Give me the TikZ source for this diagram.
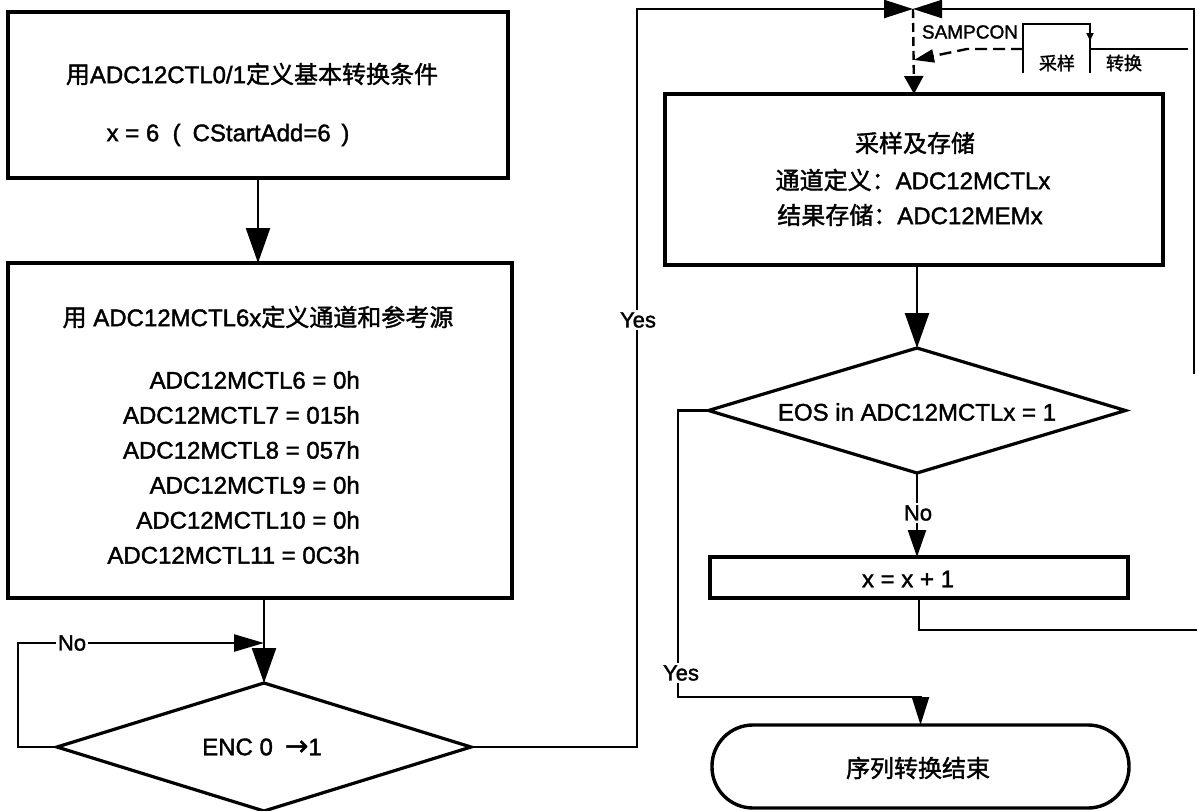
\documentclass[tikz,border=0pt]{standalone}
\usepackage{fontspec}
\setmainfont{Liberation Sans}[FakeBold=1.6]
\newfontfamily\cjk{Noto Sans CJK SC}[FakeBold=1.6]
\newfontfamily\dejavu{DejaVu Sans}[FakeBold=1.6]
\usetikzlibrary{arrows.meta,shapes.geometric}
\begin{document}
\begin{tikzpicture}[x=1pt,y=-1pt,
  box/.style={draw, line width=3.4pt, inner sep=0pt, outer sep=0pt},
  dia/.style={diamond, draw, line width=3.2pt, inner sep=0pt, outer sep=0pt},
  txt/.style={inner sep=0pt, font=\fontsize{24pt}{28pt}\selectfont},
  small/.style={inner sep=1pt, font=\fontsize{22pt}{26pt}\selectfont},
  conn/.style={line width=2.4pt},
  bigtip/.style={-{Triangle[width=24pt,length=35pt]}},
  midtip/.style={-{Triangle[width=18pt,length=27pt]}},
  lbg/.style={fill=white, inner sep=2pt}
]
\fill[white] (0,0) rectangle (1197,811);
\useasboundingbox (0,0) rectangle (1197,811);

% ---- left column ----
\node[box, minimum width=500pt, minimum height=166pt] (b1) at (258,95) {};
\node[txt] (t1a) at (252,74) {{\cjk 用}ADC12CTL0/1{\cjk 定义基本转换条件}};
\node[txt] (t1b) at (228,135) {x = 6 \ (\hspace{12pt}CStartAdd=6 \,)};

\node[box, minimum width=504pt, minimum height=335pt] (b2) at (260,430.5) {};
\node[txt] (t2) at (258,317) {{\cjk 用} ADC12MCTL6x{\cjk 定义通道和参考源}};
\node[txt, anchor=east] (m6) at (360,380) {ADC12MCTL6 = 0h};
\node[txt, anchor=east] (m7) at (360,415) {ADC12MCTL7 = 015h};
\node[txt, anchor=east] (m8) at (360,450) {ADC12MCTL8 = 057h};
\node[txt, anchor=east] (m9) at (360,485) {ADC12MCTL9 = 0h};
\node[txt, anchor=east] (m10) at (360,520) {ADC12MCTL10 = 0h};
\node[txt, anchor=east] (m11) at (360,555) {ADC12MCTL11 = 0C3h};

\node[dia, minimum width=414pt, minimum height=128pt] (enc) at (264,747) {};
\node[txt] (tenc) at (262,747) {ENC 0\hspace{12pt}{\dejavu\fontsize{28pt}{28pt}\selectfont →}1};

% ---- right column ----
\node[box, minimum width=498pt, minimum height=171pt] (b3) at (914,179.5) {};
\node[txt] (t3a) at (915,143) {\cjk 采样及存储};
\node[txt] (t3b) at (913,180) {{\cjk 通道定义：}ADC12MCTLx};
\node[txt] (t3c) at (910,215) {{\cjk 结果存储：}ADC12MEMx};

\node[dia, minimum width=417pt, minimum height=125pt] (eos) at (917,410.5) {};
\node[txt] (teos) at (917,412) {EOS in ADC12MCTLx = 1};

\node[box, minimum width=418pt, minimum height=41pt] (b4) at (919,577.5) {};
\node[txt] (t4) at (908,579) {x = x + 1};

\node[box, rounded corners=41pt, minimum width=417pt, minimum height=83pt] (term) at (920.5,766.5) {};
\node[txt] (tterm) at (918,768) {\cjk 序列转换结束};

% ---- coordinates ----
\coordinate (J) at (913,9);
\coordinate (Lt) at (637,9);
\coordinate (Rt) at (1194,9);
\coordinate (Rend) at (1194,374);
\coordinate (Rb) at (1197,630);
\coordinate (W0) at (1023,73);
\coordinate (W1) at (1023,24);
\coordinate (W2) at (1090,24);
\coordinate (W3) at (1090,49);
\coordinate (W4) at (1188,49);
\coordinate (W5) at (1090,73);
\coordinate (Wm) at (1090,41);
\coordinate (D0) at (1023,49);
\coordinate (D1) at (967,49);
\coordinate (S) at (914,60);
\coordinate (Ny) at (18,643);
\coordinate (Yl) at (678,697);

% ---- connectors ----
\draw[conn, bigtip] (b1.south) -- (b1.south |- b2.north);
\draw[conn, bigtip] (enc.north |- b2.south) -- (enc.north);
% No loop at ENC
\draw[conn, -{Triangle[width=17pt,length=30pt]}] (enc.west) -- (enc.west -| Ny) -- (Ny) -- (enc.north |- Ny);
\node[small, lbg] (nolbl) at (72,643) {No};
% Yes from ENC up and over
\draw[conn, -{Triangle[width=18pt,length=29pt]}] (enc.east) -- (enc.east -| Lt) -- (Lt) -- (J);
\node[small, lbg] (yes1) at (638,320) {Yes};
% return from right side
\draw[conn, -{Triangle[width=18pt,length=29pt]}] (Rend) -- (Rt) -- (J);
% dashed into sampling box
\draw[conn, dash pattern=on 9pt off 5pt, -{Triangle[width=19pt,length=18pt]}] (J) -- (b3.north);
% SAMPCON waveform
\draw[conn] (W0) -- (W1) -- (W2) -- (W3) -- (W4);
\draw[conn, -{Triangle[width=7pt,length=8pt]}] (W2) -- (Wm);
\draw[conn] (W3) -- (W5);
\draw[conn, dash pattern=on 12pt off 6pt, -{Triangle[width=13pt,length=20pt]}] (D0) -- (D1) -- (S);
\node[inner sep=0pt, font=\fontsize{19pt}{22pt}\selectfont] (samp) at (970,32) {SAMPCON};
\node[inner sep=0pt, font=\fontsize{18pt}{22pt}\cjk] (cy) at (1057,63) {采样};
\node[inner sep=0pt, font=\fontsize{18pt}{22pt}\cjk] (zh) at (1124,63) {转换};
% sampling -> EOS
\draw[conn, bigtip] (b3.south -| eos.north) -- (eos.north);
% EOS No -> x+1
\draw[conn, midtip] (eos.south) -- (eos.south |- b4.north);
\node[small, lbg] (no2) at (918,513) {No};
% x+1 loop back
\draw[conn] (b4.south) -- (b4.south |- Rb) -- (Rb);
% EOS Yes -> end
\draw[conn, -{Triangle[width=17pt,length=28pt]}] (eos.west) -- (eos.west -| Yl) -- (Yl) -- (Yl -| term.north) -- (term.north);
\node[small, lbg] (yes2) at (681,673) {Yes};
\end{tikzpicture}
\end{document}
